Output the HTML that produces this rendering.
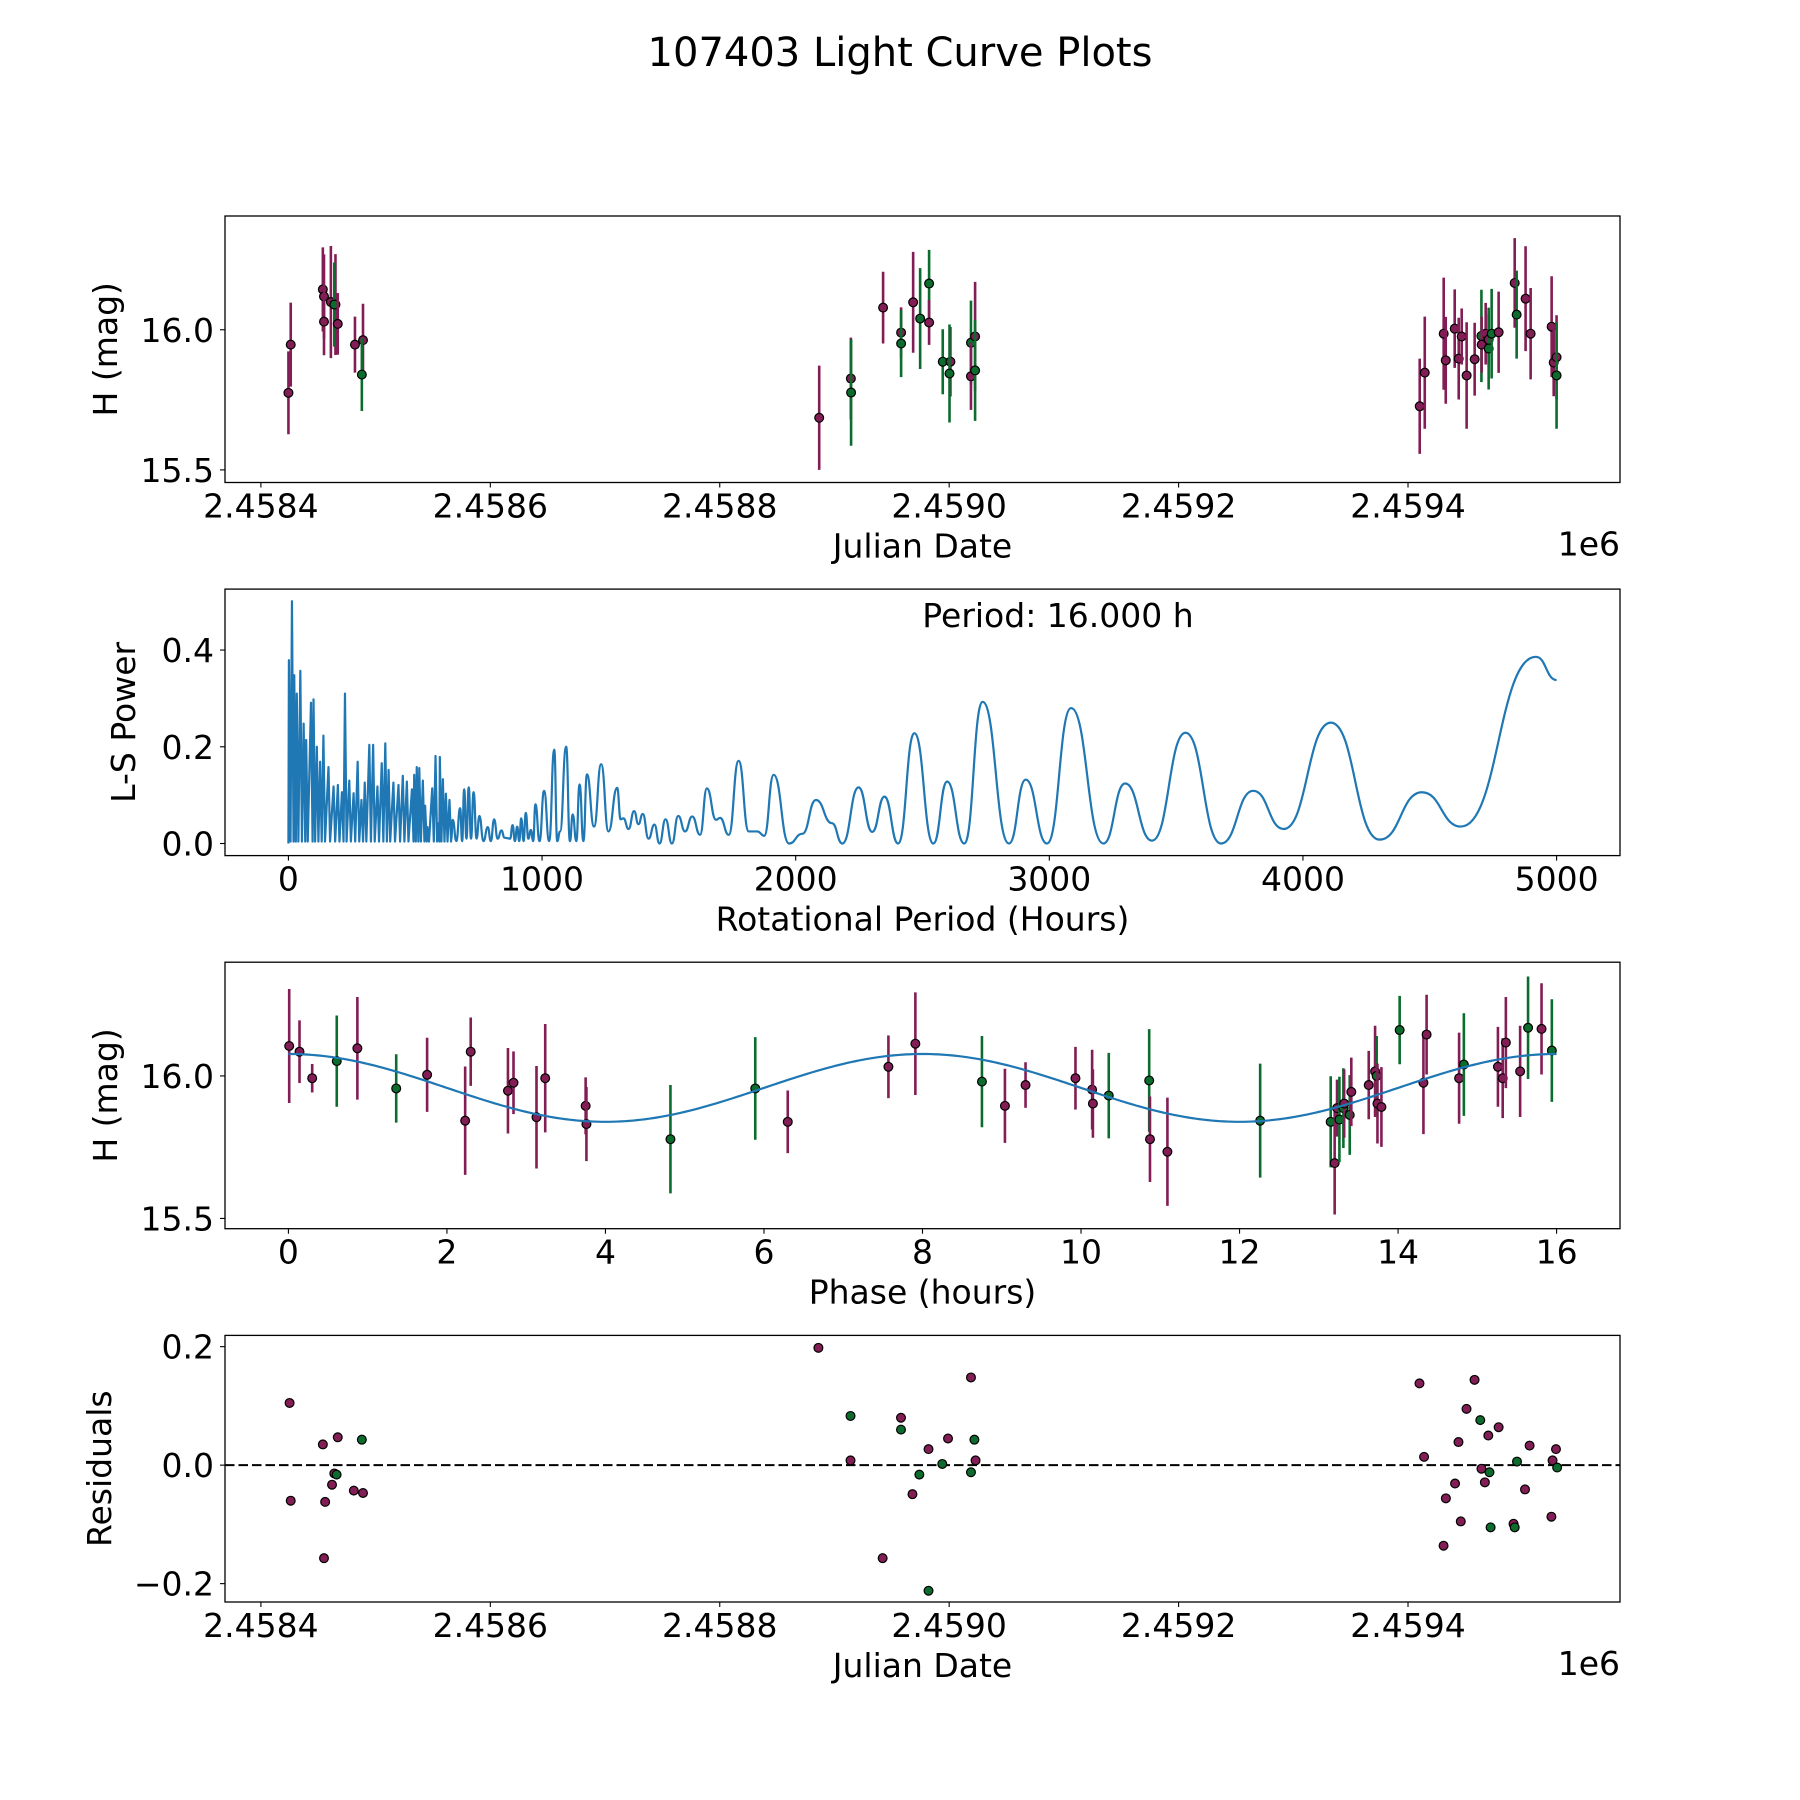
<!DOCTYPE html>
<html><head><meta charset="utf-8"><title>107403 Light Curve Plots</title>
<style>html,body{margin:0;padding:0;background:#fff}svg{display:block}text{font-family:"DejaVu Sans","Liberation Sans",sans-serif;fill:#000}</style>
</head><body>
<svg id="fig" xmlns="http://www.w3.org/2000/svg" width="1800" height="1800" viewBox="0 0 1800 1800">
<rect width="1800" height="1800" fill="#fff"/>
<text x="900" y="66" font-size="40" text-anchor="middle">107403 Light Curve Plots</text>
</svg>
<script>
// ---------- data: light curve (panel 1) ----------
const lcJD = [2458424,2458426,2458454,2458455,2458455,2458461,2458465,2458464,2458467,2458482,2458489,2458488,
2458886.7,2458914.3,2458914.5,2458942.4,2458958.1,2458958.1,2458968.6,2458974.7,2458982.5,2458982.5,2458994.4,2459001.1,2459000.3,2459019,2459022.6,2459019,2459022.6,
2459410.2,2459414.6,2459431.1,2459432.9,2459440.7,2459444.2,2459446.8,2459451.1,2459458.1,2459464,2459467.7,2459464.2,2459470.3,2459470.3,2459472.9,2459479,2459493,2459494.7,2459502.5,2459506.9,2459525.2,2459527,2459529.5,2459529.5];
const lcMag = [15.775,15.947,16.144,16.119,16.029,16.099,16.09,16.09,16.021,15.947,15.963,15.84,
15.686,15.826,15.776,16.079,15.99,15.951,16.098,16.04,16.165,16.026,15.886,15.886,15.844,15.954,15.976,15.834,15.855,
15.727,15.847,15.986,15.891,16.004,15.897,15.976,15.837,15.895,15.978,15.986,15.947,15.965,15.933,15.986,15.991,16.167,16.054,16.111,15.986,16.011,15.883,15.902,15.837];
const lcErr = [0.148,0.15,0.15,0.15,0.12,0.2,0.18,0.15,0.11,0.1,0.13,0.13,
0.186,0.146,0.19,0.128,0.09,0.12,0.18,0.18,0.12,0.08,0.116,0.124,0.175,0.15,0.195,0.12,0.18,
0.17,0.2,0.2,0.155,0.14,0.146,0.1,0.19,0.13,0.165,0.11,0.1,0.09,0.146,0.16,0.145,0.16,0.157,0.187,0.163,0.18,0.12,0.15,0.19];
const lcBand = ['m','m','m','m','m','m','m','g','m','m','m','g',
'm','m','g','m','m','g','m','g','g','m','g','m','g','g','m','m','g',
'm','m','m','m','m','m','m','m','m','g','m','m','m','g','g','m','m','g','m','m','m','m','m','g'];
// ---------- data: periodogram (panel 2) ----------
const pgDenseP = [2,14,23,33,47,60,70,89,99,112,125,138,158,178,195,211,223,240,257,273,288,301,319,334,351,368,382,395,414,434,451,467,487,496,506,516,530,539,548,567,580,589,597,609,621,635];
const pgDensePow = [0.379,0.501,0.348,0.31,0.357,0.248,0.214,0.291,0.298,0.2,0.169,0.223,0.158,0.118,0.121,0.106,0.31,0.13,0.104,0.169,0.09,0.126,0.204,0.204,0.118,0.166,0.207,0.152,0.126,0.121,0.14,0.128,0.112,0.142,0.158,0.156,0.13,0.078,0.034,0.114,0.181,0.042,0.179,0.133,0.103,0.09];
const pgP = [642,648,662,677,685,693,702,711,720,730,742,753,769,786,798,811,825,840,852,864,874,884,893,902,910,918,927,936,946,956,965,974,990,1008,1028,1048,1060,1071,1095,1110,1121,1135,1148,1163,1177,1205,1233,1262,1296,1310,1321,1341,1363,1380,1397,1420,1443,1463,1487,1512,1537,1564,1592,1623,1650,1686,1702,1736,1775,1815,1849,1876,1913,1974,2026,2080,2143,2184,2248,2302,2350,2404,2468,2543,2597,2665,2737,2841,2907,2991,3086,3213,3299,3405,3537,3677,3804,3924,4110,4302,4469,4623,4918,5000];
const pgPow = [0.01,0.049,0.005,0.073,0.005,0.112,0.01,0.116,0.01,0.106,0.01,0.057,0.005,0.034,0.005,0.05,0.01,0.027,0.012,0.011,0.01,0.038,0.005,0.035,0.005,0.052,0.005,0.063,0.01,0.028,0.005,0.081,0.005,0.109,0.005,0.194,0.005,0.025,0.2,0.005,0.06,0.005,0.122,0.005,0.143,0.035,0.164,0.025,0.115,0.05,0.052,0.03,0.067,0.04,0.061,0.01,0.039,0.0,0.05,0.0,0.057,0.025,0.056,0.018,0.114,0.049,0.053,0.018,0.171,0.025,0.025,0.016,0.142,0.0,0.02,0.09,0.042,0.0,0.116,0.024,0.097,0.0,0.228,0.0,0.128,0.0,0.293,0.0,0.132,0.0,0.28,0.0,0.124,0.006,0.229,0.0,0.109,0.03,0.25,0.008,0.106,0.035,0.386,0.338];
// ---------- data: phased light curve (panel 3) ----------
const phP = [0.01,0.14,0.30,0.61,0.87,1.36,1.75,2.23,2.30,2.77,2.84,3.13,3.24,3.75,3.76,4.82,5.89,6.30,7.57,7.91,8.75,9.04,9.30,9.93,10.14,10.15,10.35,10.86,10.87,11.09,12.26,13.15,13.20,13.23,13.26,13.31,13.32,13.39,13.41,13.63,13.71,13.73,13.74,13.79,14.02,14.32,14.36,14.77,14.83,15.26,15.32,15.36,15.54,15.64,15.81,15.94];
const phMag = [16.105,16.085,15.992,16.052,16.097,15.956,16.004,15.843,16.085,15.948,15.976,15.855,15.992,15.895,15.831,15.778,15.956,15.839,16.032,16.113,15.98,15.895,15.968,15.992,15.952,15.903,15.931,15.984,15.778,15.734,15.843,15.839,15.694,15.887,15.847,15.887,15.903,15.863,15.944,15.968,16.016,16.0,15.903,15.891,16.161,15.976,16.145,15.992,16.04,16.032,15.992,16.117,16.016,16.169,16.165,16.089];
const phErr = [0.2,0.11,0.05,0.16,0.18,0.12,0.13,0.19,0.12,0.15,0.11,0.18,0.19,0.1,0.13,0.19,0.18,0.11,0.11,0.18,0.16,0.13,0.08,0.11,0.14,0.12,0.15,0.18,0.15,0.19,0.2,0.16,0.18,0.1,0.15,0.14,0.12,0.14,0.12,0.12,0.16,0.14,0.14,0.14,0.12,0.18,0.14,0.16,0.18,0.14,0.14,0.16,0.16,0.18,0.16,0.18];
const phBand = ['m','m','m','g','m','g','m','m','m','m','m','m','m','m','m','g','g','m','m','m','g','m','m','m','m','m','g','g','m','m','g','g','m','m','g','g','m','g','m','m','m','g','m','m','g','m','m','m','g','m','m','m','m','g','m','g'];
const modelMean = [15.958];
const modelAmp = [0.119];
const modelPeriod = [8];
// ---------- data: residuals (panel 4) ----------
const resJD = [2458425,2458426,2458454,2458456,2458455,2458467,2458462,2458464,2458466,2458481,2458489,2458488,
2458886,2458914,2458914,2458942,2458958,2458958,2458968,2458974,2458982,2458982,2458994,2458999,2459019,2459019,2459022,2459023,
2459410,2459414,2459431,2459433,2459441,2459444,2459446,2459451,2459458,2459463,2459464,2459467,2459470,2459471,2459472,2459479,2459492,2459493,2459495,2459502,2459506,2459525,2459526,2459529,2459530];
const resVal = [0.105,-0.06,0.035,-0.062,-0.157,0.047,-0.033,-0.014,-0.016,-0.043,-0.047,0.043,
0.198,0.083,0.008,-0.157,0.08,0.06,-0.049,-0.016,0.027,-0.212,0.002,0.045,0.148,-0.012,0.043,0.008,
0.138,0.014,-0.136,-0.056,-0.031,0.039,-0.095,0.095,0.144,0.076,-0.006,-0.029,0.05,-0.012,-0.105,0.064,-0.099,-0.105,0.006,-0.041,0.033,-0.087,0.008,0.027,-0.004];
const resBand = ['m','m','m','m','m','m','m','m','g','m','m','g',
'm','g','m','m','m','g','m','g','m','g','g','m','m','g','g','m',
'm','m','m','m','m','m','m','m','m','g','m','m','m','g','g','m','m','g','g','m','m','m','m','m','g'];
// ---------- rendering ----------
const NS='http://www.w3.org/2000/svg';
const svg=document.getElementById('fig');
const COL={m:'#821d55',g:'#0c6c2e'};
const AX_L=225, AX_R=1620;
const PANELS=[{t:216,b:482.5},{t:589.1,b:855.6},{t:962.2,b:1228.7},{t:1335.4,b:1602}];
function el(tag,attrs,parent){const e=document.createElementNS(NS,tag);for(const k in attrs)e.setAttribute(k,attrs[k]);(parent||svg).appendChild(e);return e;}
function lin(d0,d1,r0,r1){return v=>r0+(v-d0)*(r1-r0)/(d1-d0);}
function fmtMinus(s){return s.replace('-','\u2212');}
function drawAxes(p,xs,ys,xt,xtl,yt,ytl,xlabel,ylabel,ylabelX,offset,name){
  const g=el('g',{});
  
  
  xt.forEach((v,i)=>{const x=xs(v);
    el('line',{x1:x,x2:x,y1:p.b,y2:p.b+5,stroke:'#000','stroke-width':1.1},g);
    const t=el('text',{x:x,y:p.b+35,'font-size':33,'text-anchor':'middle'},g);t.textContent=xtl[i];
    
    });
  yt.forEach((v,i)=>{const y=ys(v);
    el('line',{x1:AX_L-5,x2:AX_L,y1:y,y2:y,stroke:'#000','stroke-width':1.1},g);
    const t=el('text',{x:AX_L-11,y:y+12,'font-size':33,'text-anchor':'end'},g);t.textContent=ytl[i];
    
    });
  const xl=el('text',{x:(AX_L+AX_R)/2,y:p.b+75,'font-size':33,'text-anchor':'middle'},g);xl.textContent=xlabel;
  
  
  const cy=(p.t+p.b)/2;
  const yl=el('text',{x:ylabelX,y:cy,'font-size':33,'text-anchor':'middle',transform:`rotate(-90 ${ylabelX} ${cy})`},g);yl.textContent=ylabel;
  
  
  if(offset){const o=el('text',{x:AX_R,y:p.b+73,'font-size':33,'text-anchor':'end'},g);o.textContent=offset;
    
    }
  return g;
}
function frame(p){const r=el('rect',{x:AX_L,y:p.t,width:AX_R-AX_L,height:p.b-p.t,fill:'none',stroke:'#000','stroke-width':1.3});
  
  }
function clip(p,id){const c=el('clipPath',{id:id});el('rect',{x:AX_L,y:p.t,width:AX_R-AX_L,height:p.b-p.t},c);}
function errPoint(g,x,y,y1,y2,c,nm){
  const l=el('line',{x1:x,x2:x,y1:y1,y2:y2,stroke:c,'stroke-width':2.6},g);
  
  
  const m=el('circle',{cx:x,cy:y,r:4.4,fill:c,stroke:'#000','stroke-width':1.2},g);
  
  
}
const jdX=lin(2458368.7,2459584.8,AX_L,AX_R);
const jdTicks=[2458400,2458600,2458800,2459000,2459200,2459400];
const jdTickLbl=['2.4584','2.4586','2.4588','2.4590','2.4592','2.4594'];
// Panel 1
(function(){const p=PANELS[0];const ys=lin(15.455,16.406,p.b,p.t);
  drawAxes(p,jdX,ys,jdTicks,jdTickLbl,[15.5,16.0],['15.5','16.0'],'Julian Date','H (mag)',117,'1e6','light-curve');
  const g=el('g',{});
  
  
  lcJD.forEach((j,i)=>errPoint(g,jdX(j),ys(lcMag[i]),ys(lcMag[i]-lcErr[i]),ys(lcMag[i]+lcErr[i]),COL[lcBand[i]],'observation'));
  frame(p);})();
// Panel 2
(function(){const p=PANELS[1];const xs=lin(-250,5250,AX_L,AX_R);const ys=lin(-0.025,0.526,p.b,p.t);
  drawAxes(p,xs,ys,[0,1000,2000,3000,4000,5000],['0','1000','2000','3000','4000','5000'],[0,0.2,0.4],['0.0','0.2','0.4'],'Rotational Period (Hours)','L-S Power',135,null,'periodogram');
  clip(p,'c2');
  let d=`M${xs(0)},${ys(0)}`;
  pgDenseP.forEach((P,i)=>{d+=`L${xs(P)},${ys(pgDensePow[i])}L${xs(P)+1.6},${ys(0.004)}`;});
  const pts=pgP.map((P,i)=>[xs(P),ys(pgPow[i])]);
  d+=`L${pts[0][0]},${pts[0][1]}`;
  for(let i=0;i<pts.length-1;i++){const a=pts[i],b=pts[i+1];const mx=(a[0]+b[0])/2;d+=`C${mx},${a[1]} ${mx},${b[1]} ${b[0]},${b[1]}`;}
  const path=el('path',{d:d,fill:'none',stroke:'#1f77b4','stroke-width':2.2,'stroke-linejoin':'round','clip-path':'url(#c2)'});
  
  
  const t=el('text',{x:1058,y:627,'font-size':33,'text-anchor':'middle'});t.textContent='Period: 16.000 h';
  
  
  frame(p);})();
// Panel 3
(function(){const p=PANELS[2];const xs=lin(-0.8,16.8,AX_L,AX_R);const ys=lin(15.464,16.399,p.b,p.t);
  drawAxes(p,xs,ys,[0,2,4,6,8,10,12,14,16],['0','2','4','6','8','10','12','14','16'],[15.5,16.0],['15.5','16.0'],'Phase (hours)','H (mag)',117,null,'phase');
  const g=el('g',{});
  
  
  phP.forEach((ph,i)=>errPoint(g,xs(ph),ys(phMag[i]),ys(phMag[i]-phErr[i]),ys(phMag[i]+phErr[i]),COL[phBand[i]],'phased'));
  let d='';for(let k=0;k<=320;k++){const ph=k*16/320;const m=modelMean[0]+modelAmp[0]*Math.cos(2*Math.PI*ph/modelPeriod[0]);d+=(k?'L':'M')+xs(ph)+','+ys(m);}
  const line=el('path',{d:d,fill:'none',stroke:'#1f77b4','stroke-width':2.2});
  
  
  frame(p);})();
// Panel 4
(function(){const p=PANELS[3];const ys=lin(-0.231,0.219,p.b,p.t);
  drawAxes(p,jdX,ys,jdTicks,jdTickLbl,[-0.2,0,0.2],[fmtMinus('-0.2'),'0.0','0.2'],'Julian Date','Residuals',111,'1e6','residuals');
  const z=el('line',{x1:AX_L,x2:AX_R,y1:ys(0),y2:ys(0),stroke:'#000','stroke-width':2,'stroke-dasharray':'9.5,4'});
  
  
  const g=el('g',{});
  
  
  resJD.forEach((j,i)=>{const c=el('circle',{cx:jdX(j),cy:ys(resVal[i]),r:4.4,fill:COL[resBand[i]],stroke:'#000','stroke-width':1.2},g);
    
    });
  frame(p);})();
</script>
</body></html>
